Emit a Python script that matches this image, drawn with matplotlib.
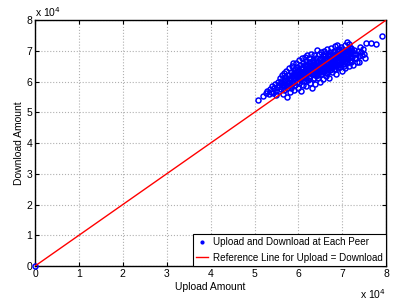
import matplotlib
matplotlib.use("Agg")
from matplotlib import pyplot as plt
from matplotlib.lines import Line2D

plt.rcParams['font.family'] = ['Liberation Sans', 'DejaVu Sans']

# Upload / download per peer, in units of 1e4
UPLOAD = [
    0.00,
    5.09, 5.19, 5.25, 5.28,
    5.32, 5.35, 5.38, 5.40, 5.42, 5.44, 5.46, 5.48, 5.50,
    5.52, 5.53, 5.55, 5.56, 5.58, 5.60, 5.61, 5.62, 5.64, 5.65, 5.66, 5.67, 5.68, 5.69, 5.70,
    5.71, 5.72, 5.73, 5.74, 5.75, 5.76, 5.77, 5.78, 5.79, 5.80, 5.81, 5.82, 5.83, 5.84, 5.85,
    5.86, 5.87, 5.88, 5.89, 5.90,
    5.91, 5.92, 5.93, 5.94, 5.95, 5.96, 5.97, 5.98, 5.99, 6.00, 6.01, 6.02, 6.03, 6.04, 6.05,
    6.06, 6.07, 6.08, 6.09, 6.10,
    6.11, 6.12, 6.13, 6.14, 6.15, 6.16, 6.17, 6.18, 6.19, 6.20, 6.21, 6.22, 6.23, 6.24, 6.25,
    6.26, 6.27, 6.28, 6.29, 6.30,
    6.31, 6.32, 6.33, 6.34, 6.35, 6.36, 6.37, 6.38, 6.39, 6.40, 6.41, 6.42, 6.43, 6.44, 6.45,
    6.46, 6.47, 6.48, 6.49, 6.50,
    6.51, 6.52, 6.53, 6.54, 6.55, 6.56, 6.57, 6.58, 6.59, 6.60, 6.61, 6.62, 6.63, 6.64, 6.65,
    6.66, 6.67, 6.68, 6.69, 6.70,
    6.71, 6.72, 6.73, 6.74, 6.75, 6.76, 6.77, 6.78, 6.79, 6.80, 6.81, 6.82, 6.83, 6.84, 6.85,
    6.86, 6.87, 6.88, 6.89, 6.90,
    6.91, 6.92, 6.93, 6.94, 6.95, 6.96, 6.97, 6.98, 6.99, 7.00, 7.01, 7.02, 7.03, 7.04, 7.05,
    7.06, 7.07, 7.08, 7.10, 7.10,
    7.12, 7.14, 7.15, 7.17, 7.18, 7.20, 7.22, 7.23, 7.25, 7.27, 7.28, 7.30,
    7.33, 7.35, 7.37, 7.40, 7.42, 7.44, 7.46, 7.50,
    7.54, 7.65, 7.77, 7.91, 7.38, 7.52, 7.15,
    5.60, 5.65, 5.70, 5.75, 5.80, 5.85, 5.88, 5.92, 5.95, 5.98, 6.02, 6.04, 6.06, 6.08, 6.10,
    6.12, 6.14, 6.16, 6.18, 6.20, 6.22, 6.24, 6.26, 6.28, 6.30, 6.32, 6.34, 6.36, 6.38, 6.40,
    6.42, 6.44, 6.46, 6.48, 6.50, 6.52, 6.54, 6.56, 6.58, 6.60, 6.62, 6.64, 6.66, 6.68, 6.70,
    6.72, 6.74, 6.76, 6.78, 6.80, 6.82, 6.84, 6.86, 6.88, 6.90, 6.92, 6.94, 6.96, 6.98, 7.00,
    7.02, 7.04, 7.06, 7.08, 7.10, 7.12, 7.15, 7.18, 7.20, 7.25, 6.25, 6.15, 6.05, 5.95, 6.55,
    6.65, 6.75, 6.45, 6.35, 6.85,
    5.78, 5.90, 6.00, 6.10, 6.20, 6.30, 6.40, 6.50, 6.60, 6.70, 6.80, 6.90, 7.00, 7.10, 7.20,
    5.83, 5.97, 6.07, 6.17, 6.27, 6.37, 6.47, 6.57, 6.67, 6.77, 6.87, 6.97, 7.07, 7.17, 7.30,
    6.33, 6.53, 6.73, 6.93, 7.13, 6.23, 6.43, 6.63, 6.83, 7.03,
]
DOWNLOAD = [
    0.00,
    5.40, 5.53, 5.62, 5.70,
    5.58, 5.75, 5.66, 5.85, 5.63, 5.78, 5.92, 5.70, 5.55,
    5.82, 6.00, 5.68, 5.90, 6.10, 5.75, 5.95, 6.20, 5.60, 5.85, 6.27, 6.05, 5.72, 5.95, 6.15,
    5.88, 6.35, 5.51, 6.02, 5.78, 6.22, 5.95, 6.45, 6.10, 5.65, 5.88, 6.30, 6.05, 5.80, 6.18,
    6.52, 5.95, 6.59, 6.25, 5.72,
    6.10, 6.40, 5.90, 6.60, 6.22, 6.00, 6.48, 5.80, 6.35, 6.15, 6.70, 5.95, 6.55, 6.28, 5.70,
    6.08, 6.42, 6.75, 6.20, 5.88,
    6.60, 6.35, 6.02, 6.80, 6.50, 6.18, 5.85, 6.68, 6.86, 6.30, 6.05, 6.55, 6.42, 6.75, 6.15,
    5.95, 6.62, 6.38, 6.90, 5.78,
    6.25, 6.50, 6.70, 6.08, 6.85, 6.40, 6.58, 5.92, 6.22, 6.78, 6.48, 7.02, 6.32, 6.65, 6.10,
    6.90, 6.55, 6.00, 6.38, 6.72,
    6.95, 6.25, 6.60, 6.45, 6.82, 6.08, 6.68, 7.00, 6.35, 6.55, 6.90, 6.18, 6.75, 6.27, 6.62,
    7.05, 6.45, 6.85, 6.70, 6.10,
    6.55, 6.95, 6.38, 6.78, 7.08, 6.62, 6.30, 6.88, 6.50, 7.00, 6.70, 6.42, 7.15, 6.82, 6.58,
    6.25, 7.19, 6.92, 6.65, 6.45,
    6.80, 7.05, 6.55, 6.90, 6.48, 6.72, 7.12, 6.62, 6.85, 6.35, 7.00, 6.75, 6.58, 6.92, 7.18,
    6.68, 6.45, 6.82, 7.27, 6.60,
    6.95, 6.72, 6.50, 6.88, 7.08, 6.65, 6.98, 6.80, 6.55, 7.02, 6.75, 6.90,
    6.64, 7.00, 6.82, 7.12, 6.95, 6.86, 7.05, 6.90,
    7.26, 7.24, 7.21, 7.49, 6.62, 6.78, 7.22,
    6.02, 5.92, 6.05, 5.90, 6.08, 5.98, 6.12, 6.22, 6.08, 6.18, 6.25, 6.10, 6.30, 6.15, 6.28,
    6.18, 6.38, 6.24, 6.34, 6.45, 6.30, 6.40, 6.50, 6.28, 6.45, 6.35, 6.55, 6.28, 6.48, 6.38,
    6.60, 6.45, 6.35, 6.58, 6.48, 6.40, 6.65, 6.52, 6.42, 6.70, 6.58, 6.48, 6.75, 6.60, 6.50,
    6.72, 6.62, 6.82, 6.70, 6.58, 6.78, 6.68, 6.88, 6.75, 6.62, 6.85, 6.75, 6.95, 6.80, 6.70,
    6.88, 6.78, 6.98, 6.90, 6.78, 6.85, 6.95, 6.80, 7.02, 6.88, 6.62, 6.55, 6.45, 6.30, 6.30,
    6.38, 6.42, 6.22, 6.12, 6.52,
    6.20, 6.32, 6.38, 6.45, 6.55, 6.62, 6.68, 6.75, 6.82, 6.88, 6.95, 7.00, 7.05, 7.00, 7.10,
    5.85, 5.98, 6.02, 6.10, 6.18, 6.22, 6.30, 6.35, 6.42, 6.48, 6.55, 6.60, 6.65, 6.70, 6.78,
    6.62, 6.72, 6.85, 6.98, 7.05, 6.10, 6.20, 6.28, 6.40, 6.50,
]
REF_LINE = [0, 8]
TICKS = [0, 1, 2, 3, 4, 5, 6, 7, 8]

fig = plt.figure(figsize=(3.96, 3.03), dpi=100)
ax = fig.add_axes([0.0884, 0.122, 0.887, 0.812])

ax.plot(UPLOAD, DOWNLOAD, 'o', mfc='none', mec='#0000ff', ms=3.6, mew=1.1,
        clip_on=False, zorder=3)
ax.plot(REF_LINE, REF_LINE, '-', color='#ff0000', lw=1.0, zorder=4)

ax.set_xlim(0, 8)
ax.set_ylim(0, 8)
ax.set_xticks(TICKS)
ax.set_yticks(TICKS)
ax.tick_params(direction='in', top=True, right=True, length=3, width=0.8,
               labelsize=7.5, pad=2)
ax.grid(True, ls=':', color='#b0b0b0', lw=0.8)
for s in ax.spines.values():
    s.set_linewidth(1.0)

ax.set_xlabel('Upload Amount', fontsize=7.5, labelpad=2)
ax.set_ylabel('Download Amount', fontsize=7.5, labelpad=2)
ax.text(0.0, 1.005, 'x 10$^4$', transform=ax.transAxes, fontsize=7.5,
        ha='left', va='bottom')
ax.text(1.0, -0.085, 'x 10$^4$', transform=ax.transAxes, fontsize=7.5,
        ha='right', va='top')

handles = [
    Line2D([], [], ls='none', marker='.', color='#0000ff', ms=4),
    Line2D([], [], color='#ff0000', lw=1.0),
]
leg = ax.legend(handles, ['Upload and Download at Each Peer',
                          'Reference Line for Upload = Download'],
                loc='lower right', fontsize=7.1, fancybox=False, framealpha=1,
                edgecolor='black', borderaxespad=0, handlelength=1.2,
                handletextpad=0.5, borderpad=0.35, labelspacing=0.55)
leg.get_frame().set_linewidth(0.8)

fig.savefig('out.png', dpi=100)
